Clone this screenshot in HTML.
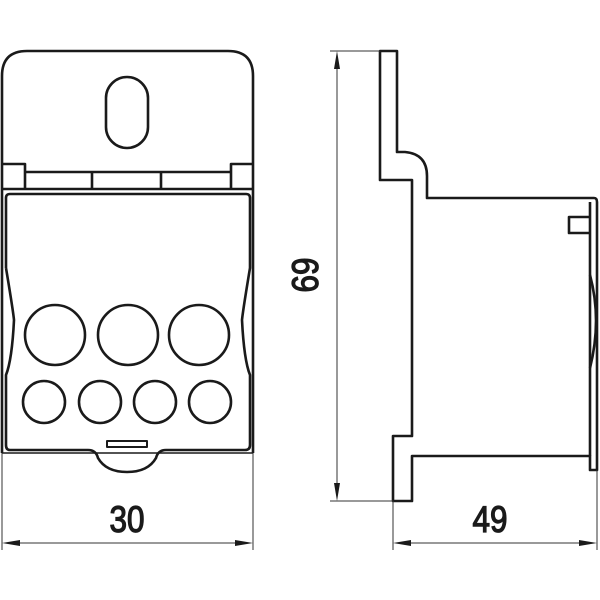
<!DOCTYPE html>
<html><head><meta charset="utf-8"><style>html,body{margin:0;padding:0;background:#fff}svg{display:block}</style></head><body>
<svg width="600" height="600" viewBox="0 0 600 600" xmlns="http://www.w3.org/2000/svg">
<g fill="none" stroke="#1a1a1a" stroke-width="2.6" stroke-linejoin="round">
<path d="M2,453 V76 Q2,51 27,51 H228 Q253,51 253,76 V453"/>
<rect x="106" y="77" width="42" height="71" rx="21"/>
<path d="M2,164 H25 V189 M253,164 H231 V189 M25,172 H231 M2,189 H253 M92,172 V189 M161,172 V189"/>
<path d="M6,268 V198 Q6,194 10,194 H246 Q250,194 250,198 V268 Q243,310 242,320 Q244,360 250,375 V445 Q250,450 245,450 H166 Q158,450 156,458 Q148,472 127,472 Q106,472 98,458 Q96,450 88,450 H10 Q6,450 6,445 V375 Q12,360 14,320 Q13,310 6,268"/>
<path d="M2,453 H253" stroke-width="1.6"/>
<rect x="107" y="441" width="40" height="6" stroke-width="2"/>
<circle cx="55" cy="335" r="30"/><circle cx="128" cy="335" r="30"/><circle cx="199" cy="335" r="30"/>
<circle cx="44" cy="402" r="21"/><circle cx="100" cy="402" r="21"/><circle cx="155" cy="402" r="21"/><circle cx="210" cy="402" r="21"/>
<path d="M380,51 H397 V152 H405 Q427,154 427,176 V198 H594 Q597,198 597,202 V470 H590 V456 H412 V501 H393 V436 H412 V180 H380 Z"/>
<path d="M590,202 V456"/>
<path d="M590,217 H569 V233 H590"/>
<path d="M590,275 Q602,320 590,368"/>
</g>
<g stroke="#333" stroke-width="1" fill="none">
<path d="M2,453 V550 M253,453 V550 M8,543 H247"/>
<path d="M330,51 H380 M330,501 H393 M337,57 V495"/>
<path d="M393,501 V550 M597,470 V550 M399,543 H591"/>
</g>
<g fill="#1a1a1a">
<path d="M2,543 L20,540 L20,546 Z M253,543 L235,540 L235,546 Z"/>
<path d="M337,51 L334,69 L340,69 Z M337,501 L334,483 L340,483 Z"/>
<path d="M393,543 L411,540 L411,546 Z M597,543 L579,540 L579,546 Z"/>
</g>
<g font-family="Liberation Sans, sans-serif" font-size="37" fill="#1a1a1a" stroke="#1a1a1a" stroke-width="1.3" text-anchor="middle">
<text x="0" y="0" transform="translate(127,532) scale(0.85,1)">30</text>
<text x="0" y="0" transform="translate(490,532) scale(0.85,1)">49</text>
<text x="0" y="0" transform="translate(318,275) rotate(-90) scale(0.85,1)">69</text>
</g>
</svg>
</body></html>
